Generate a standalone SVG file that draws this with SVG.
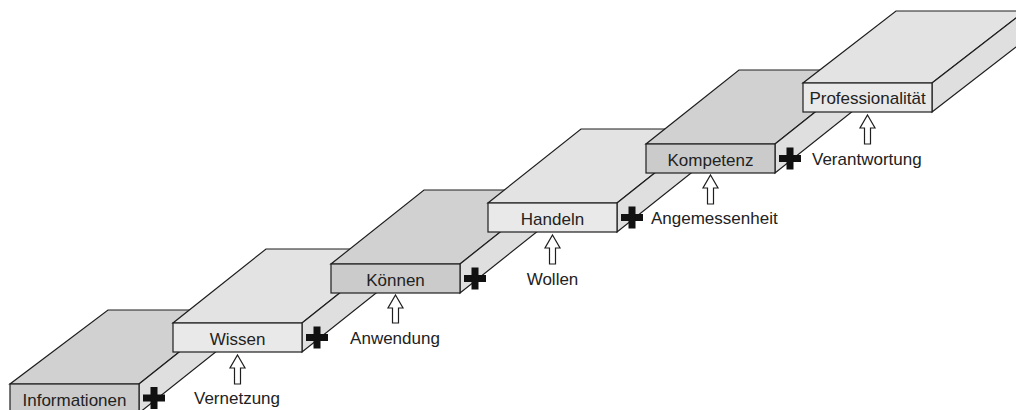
<svg xmlns="http://www.w3.org/2000/svg" width="1016" height="410" viewBox="0 0 1016 410">
<defs>
<style>
.face{stroke:#1e1e1e;stroke-width:1.2;stroke-linejoin:miter}
.dtop{fill:#d1d1d1}
.dfront{fill:#cbcbcb}
.ltop{fill:#e3e3e3}
.lfront{fill:#e9e9e9}
.side{fill:#dfdfdf}
.lbl{font-family:"Liberation Sans",Arial,sans-serif;font-size:17px;fill:#222}
.mid{text-anchor:middle}
.plus{fill:#111}
.arrow{fill:#fff;stroke:#1e1e1e;stroke-width:1.2;stroke-linejoin:miter}
</style>
</defs>
<rect width="1016" height="410" fill="#fff"/>

<g id="informationen">
<polygon class="face dtop" points="10,384 139,384 232,310 108,310"/>
<polygon class="face side" points="139,384 232,310 232,339 139,413"/>
<rect class="face dfront" x="10" y="384" width="129" height="29"/>
<text class="lbl mid" x="74.5" y="406">Informationen</text>
</g>

<g id="wissen">
<polygon class="face ltop" points="173,323 302,323 395,249 266,249"/>
<polygon class="face side" points="302,323 395,249 395,278 302,352"/>
<rect class="face lfront" x="173" y="323" width="129" height="29"/>
<text class="lbl mid" x="237.5" y="345">Wissen</text>
</g>

<g id="koennen">
<polygon class="face dtop" points="331,264 460,264 553,190 424,190"/>
<polygon class="face side" points="460,264 553,190 553,219 460,293"/>
<rect class="face dfront" x="331" y="264" width="129" height="29"/>
<text class="lbl mid" x="395.5" y="286">Können</text>
</g>

<g id="handeln">
<polygon class="face ltop" points="488,203 617,203 710,129 581,129"/>
<polygon class="face side" points="617,203 710,129 710,158 617,232"/>
<rect class="face lfront" x="488" y="203" width="129" height="29"/>
<text class="lbl mid" x="552.5" y="224.5">Handeln</text>
</g>

<g id="kompetenz">
<polygon class="face dtop" points="646,144 775,144 868,70 739,70"/>
<polygon class="face side" points="775,144 868,70 868,99 775,173"/>
<rect class="face dfront" x="646" y="144" width="129" height="29"/>
<text class="lbl mid" x="710.5" y="165.5">Kompetenz</text>
</g>

<g id="professionalitaet">
<polygon class="face ltop" points="803,83 932,83 1025,11 896,11"/>
<polygon class="face side" points="932,83 1025,11 1025,40 932,112"/>
<rect class="face lfront" x="803" y="83" width="129" height="29"/>
<text class="lbl mid" x="867.5" y="104">Professionalität</text>
</g>

<g id="connectors">
<g id="plus-signs">
<g class="plus"><rect x="143" y="394.5" width="22" height="7"/><rect x="150.5" y="387" width="7" height="22"/></g>
<g class="plus"><rect x="306" y="334" width="22" height="7"/><rect x="313.5" y="326.5" width="7" height="22"/></g>
<g class="plus"><rect x="464" y="275" width="22" height="7"/><rect x="471.5" y="267.5" width="7" height="22"/></g>
<g class="plus"><rect x="621" y="214" width="22" height="7"/><rect x="628.5" y="206.5" width="7" height="22"/></g>
<g class="plus"><rect x="779" y="155" width="22" height="7"/><rect x="786.5" y="147.5" width="7" height="22"/></g>
</g>
<g id="arrows">
<polygon class="arrow" points="237.5,355 245,368 240.5,368 240.5,384 234.5,384 234.5,368 230,368"/>
<polygon class="arrow" points="395.5,295 403,308 398.5,308 398.5,323 392.5,323 392.5,308 388,308"/>
<polygon class="arrow" points="552.5,235 560,248 555.5,248 555.5,264 549.5,264 549.5,248 545,248"/>
<polygon class="arrow" points="710.5,175 718,188 713.5,188 713.5,204 707.5,204 707.5,188 703,188"/>
<polygon class="arrow" points="867.5,115 875,128 870.5,128 870.5,144 864.5,144 864.5,128 860,128"/>
</g>
</g>

<g id="labels">
<text class="lbl mid" x="237" y="404">Vernetzung</text>
<text class="lbl mid" x="395" y="344">Anwendung</text>
<text class="lbl mid" x="552.5" y="285">Wollen</text>
<text class="lbl" x="651" y="224">Angemessenheit</text>
<text class="lbl" x="812" y="164.5">Verantwortung</text>
</g>
</svg>
